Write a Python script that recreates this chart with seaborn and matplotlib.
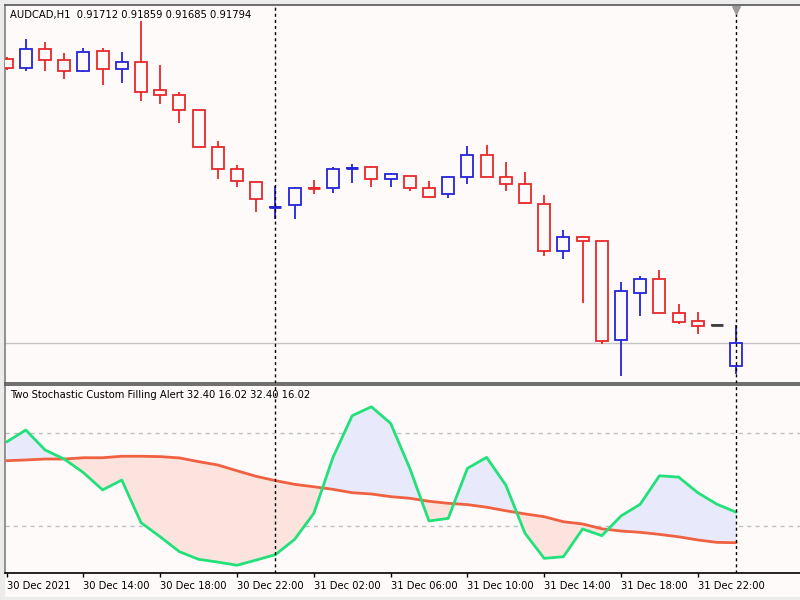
import numpy as np
import pandas as pd
import matplotlib
matplotlib.use("Agg")
import matplotlib.pyplot as plt
from matplotlib.patches import Rectangle
import seaborn as sns

sns.set_style("white")
plt.rcParams['font.family'] = ['DejaVu Sans']

# ---------------- data ----------------
opens = [0.92802, 0.92770, 0.92838, 0.92799, 0.92760, 0.92831, 0.92767, 0.92792, 0.92692, 0.92674,
         0.92621, 0.92490, 0.92412, 0.92366, 0.92276, 0.92284, 0.92345, 0.92344, 0.92414, 0.92419,
         0.92376, 0.92387, 0.92344, 0.92323, 0.92383, 0.92461, 0.92383, 0.92358, 0.92287, 0.92121,
         0.92170, 0.92156, 0.91805, 0.91972, 0.92021, 0.91901, 0.91872, 0.91858, 0.91712]
highs = [0.92809, 0.92873, 0.92863, 0.92824, 0.92841, 0.92841, 0.92827, 0.92937, 0.92781, 0.92685,
         0.92621, 0.92511, 0.92426, 0.92366, 0.92351, 0.92348, 0.92373, 0.92419, 0.92429, 0.92422,
         0.92398, 0.92387, 0.92369, 0.92387, 0.92493, 0.92497, 0.92437, 0.92401, 0.92319, 0.92195,
         0.92174, 0.92156, 0.92011, 0.92032, 0.92053, 0.91933, 0.91904, 0.91858, 0.91859]
lows = [0.92763, 0.92760, 0.92760, 0.92731, 0.92756, 0.92710, 0.92717, 0.92653, 0.92642, 0.92575,
        0.92490, 0.92376, 0.92348, 0.92259, 0.92234, 0.92234, 0.92323, 0.92326, 0.92362, 0.92348,
        0.92348, 0.92334, 0.92309, 0.92309, 0.92358, 0.92383, 0.92334, 0.92287, 0.92103, 0.92092,
        0.91936, 0.91790, 0.91677, 0.91890, 0.91901, 0.91862, 0.91826, 0.91858, 0.91685]
closes = [0.92770, 0.92838, 0.92799, 0.92760, 0.92827, 0.92767, 0.92792, 0.92685, 0.92674, 0.92621,
          0.92490, 0.92412, 0.92369, 0.92305, 0.92277, 0.92344, 0.92344, 0.92412, 0.92415, 0.92376,
          0.92394, 0.92344, 0.92312, 0.92383, 0.92461, 0.92383, 0.92358, 0.92291, 0.92121, 0.92170,
          0.92156, 0.91801, 0.91979, 0.92021, 0.91901, 0.91869, 0.91854, 0.91858, 0.91794]

stoch_main = [70.2, 76.6, 65.9, 61.0, 53.7, 44.4, 49.7, 26.8, 19.2, 11.2,
              7.1, 5.6, 3.9, 6.7, 9.6, 17.8, 31.8, 61.9, 84.3, 89.1,
              80.2, 56.0, 27.7, 29.1, 56.0, 61.9, 47.0, 21.1, 7.6, 8.5,
              23.4, 19.8, 30.4, 36.7, 52.0, 51.3, 42.9, 36.7, 32.40]
stoch_signal = [60.1, 60.5, 61.0, 61.0, 61.7, 61.7, 62.5, 62.5, 62.3, 61.6,
                59.6, 57.8, 54.7, 51.7, 49.4, 47.4, 46.1, 44.7, 42.9, 42.2,
                40.8, 39.9, 38.3, 37.2, 36.5, 35.1, 33.2, 31.5, 30.0, 27.3,
                26.1, 23.5, 22.3, 21.6, 20.5, 19.2, 17.5, 16.2, 16.02]

tick_labels = ['30 Dec 2021', '30 Dec 14:00', '30 Dec 18:00', '30 Dec 22:00', '31 Dec 02:00',
               '31 Dec 06:00', '31 Dec 10:00', '31 Dec 14:00', '31 Dec 18:00', '31 Dec 22:00']
tick_bars = [0, 4, 8, 12, 16, 20, 24, 28, 32, 36]
day_separators = [14, 38]
levels = [75, 25]
bid_price = 0.91794

header_top = "AUDCAD,H1  0.91712 0.91859 0.91685 0.91794"
header_ind = "Two Stochastic Custom Filling Alert 32.40 16.02 32.40 16.02"

# ---------------- style ----------------
BG = '#fffafa'
RED = '#e8282b'
BLUE = '#2424d8'
DOJI = '#404040'
GREEN = '#22e07a'
ORANGE = '#ef6140'
FILL_UP = '#e8e9fa'
FILL_DN = '#fce3de'
FRAME = '#808080'

W, H = 800, 600
fig = plt.figure(figsize=(8, 6), dpi=100, facecolor=BG)

def px_rect(x0, y0, x1, y1):
    return [x0 / W, 1 - y1 / H, (x1 - x0) / W, (y1 - y0) / H]

ax1 = fig.add_axes(px_rect(5, 5, 800, 383))
ax2 = fig.add_axes(px_rect(5, 385, 800, 572.7))
for ax in (ax1, ax2):
    ax.set_facecolor(BG)

n = len(opens)
idx = np.arange(n)
xlim = ((5 - 6.6) / 19.2, (800 - 6.6) / 19.2)

df = pd.DataFrame({'bar': idx, 'open': opens, 'high': highs, 'low': lows, 'close': closes,
                   'main': stoch_main, 'signal': stoch_signal})

# ---------------- candles ----------------
def ccolor(o, c, h, l):
    if c > o:
        return BLUE
    if c < o:
        return RED
    if h == l:
        return DOJI
    return RED

cols = [ccolor(o, c, h, l) for o, c, h, l in zip(opens, closes, highs, lows)]
ax1.vlines(df['bar'], df['low'], df['high'], colors=cols, linewidth=1.3, zorder=2)
body_bottom = np.minimum(df['open'], df['close'])
body_h = np.abs(df['close'] - df['open'])
ax1.bar(df['bar'], body_h, bottom=body_bottom, width=0.63, facecolor=BG,
        edgecolor=cols, linewidth=1.3, zorder=3)
# flat bodies (doji) as thick horizontal strokes
for i in range(n):
    if body_h[i] < 0.00002:
        ax1.hlines((opens[i] + closes[i]) / 2, i - 0.315, i + 0.315, colors=cols[i],
                   linewidth=2.0, zorder=4)

ax1.axhline(bid_price, color='#c4c4c4', linewidth=1.0, zorder=1)
ax1.set_xlim(*xlim)
ax1.set_ylim(0.91652, 0.92994)

# ---------------- indicator ----------------
main = np.array(stoch_main)
sig = np.array(stoch_signal)
ax2.fill_between(idx, main, sig, where=main >= sig, interpolate=True, color=FILL_UP, linewidth=0, zorder=1)
ax2.fill_between(idx, main, sig, where=main <= sig, interpolate=True, color=FILL_DN, linewidth=0, zorder=1)
for lv in levels:
    ax2.axhline(lv, color='#c0c0c0', linewidth=1.0, linestyle=(0, (3, 3)), zorder=0.5)
sns.lineplot(data=df, x='bar', y='signal', ax=ax2, color=ORANGE, linewidth=2.0, zorder=3)
sns.lineplot(data=df, x='bar', y='main', ax=ax2, color=GREEN, linewidth=2.0, zorder=4)
ax2.set_xlim(*xlim)
ax2.set_ylim(-0.1, 100.8)
ax2.set_xlabel('')
ax2.set_ylabel('')

# day separators
for ax in (ax1, ax2):
    for d in day_separators:
        ax.axvline(d, color='black', linewidth=1.0, linestyle=(0, (2.2, 2.2)), zorder=5)

ax1.scatter([day_separators[-1]], [0.92975], marker='v', s=30, color='#9a9a9a', zorder=6, clip_on=False)

# ---------------- axes cosmetics ----------------
ax1.set_xticks([])
ax1.set_yticks([])
ax2.set_yticks([])
ax2.set_xticks(tick_bars)
ax2.set_xticklabels(tick_labels, fontsize=7.2, color='black')
for lab in ax2.get_xticklabels():
    lab.set_horizontalalignment('left')
ax2.tick_params(axis='x', direction='out', length=3, width=1, color='black', pad=3, bottom=True)

for ax in (ax1, ax2):
    ax.spines['right'].set_visible(False)
    ax.spines['left'].set_color(FRAME)
    ax.spines['top'].set_color('#555555')
    ax.spines['bottom'].set_color('#555555')
    for s in ax.spines.values():
        s.set_linewidth(1.2)
ax2.spines['bottom'].set_color('black')

# window frame strips
fig.add_artist(Rectangle((0, 0), 4 / W, 1, transform=fig.transFigure, color='#ececec', zorder=0))
fig.add_artist(Rectangle((0, 1 - 4 / H), 1, 4 / H, transform=fig.transFigure, color='#ececec', zorder=0))
fig.add_artist(Rectangle((0, 0), 1, 3 / H, transform=fig.transFigure, color='#ececec', zorder=0))

fig.text(10 / W, 1 - 15 / H, header_top, fontsize=7.2, ha='left', va='center', color='black')
fig.text(10 / W, 1 - 395 / H, header_ind, fontsize=7.2, ha='left', va='center', color='black')

fig.savefig('out.png', dpi=100, facecolor=BG)
